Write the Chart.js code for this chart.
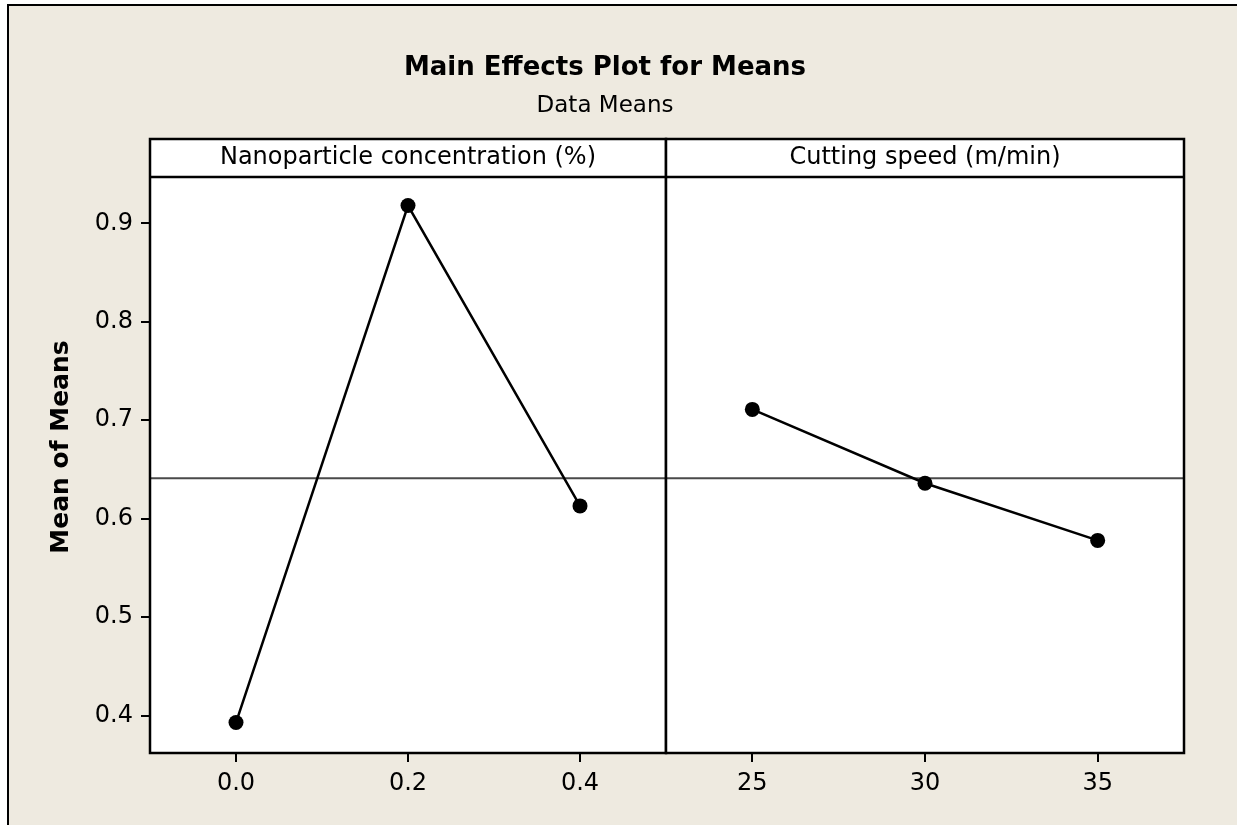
<!DOCTYPE html>
<html>
<head>
<meta charset="utf-8">
<title>Main Effects Plot for Means</title>
<script src="https://cdn.jsdelivr.net/npm/chart.js@4.4.1/dist/chart.umd.min.js"></script>
<style>
  body { margin: 0; background: #fff; }
  #frame {
    position: absolute; left: 7px; top: 4px; width: 1230px; height: 821px;
    background: #eeeae0; border-top: 2px solid #000; border-left: 2px solid #000;
  }
  canvas { position: absolute; left: 0; top: 0; }
</style>
</head>
<body>
<div id="frame"></div>
<canvas id="nano" width="1237" height="825"></canvas>
<canvas id="speed" width="1237" height="825"></canvas>
<script>
// Data

const nanoLevels = [0.0, 0.2, 0.4];
const nanoMeans = [0.393, 0.918, 0.613];

const speedLevels = [25, 30, 35];
const speedMeans = [0.711, 0.636, 0.578];

const grandMean = 0.641;

const yTicks = [0.4, 0.5, 0.6, 0.7, 0.8, 0.9];
const nanoTicks = [0.0, 0.2, 0.4];
const speedTicks = [25, 30, 35];

const panelTitles = ["Nanoparticle concentration (%)", "Cutting speed (m/min)"];

// Styling

const FONT = "'DejaVu Sans', Verdana, sans-serif";
const Y_MIN = 0.3621;
const Y_MAX = 0.947;
const HEADER_H = 38;

Chart.defaults.font.family = FONT;
Chart.defaults.color = "#000";

// white panel, header strip, frame, titles
const panelPlugin = {
  id: "panel",
  beforeDraw(chart) {
    const { ctx, chartArea: a } = chart;
    ctx.save();
    ctx.fillStyle = "#fff";
    ctx.fillRect(a.left, a.top - HEADER_H, a.right - a.left, a.bottom - a.top + HEADER_H);
    ctx.restore();
  },
  beforeDatasetsDraw(chart) {
    const { ctx, chartArea: a } = chart;
    const y = chart.scales.y.getPixelForValue(grandMean);
    ctx.save();
    ctx.strokeStyle = "#4a4a4a";
    ctx.lineWidth = 2;
    ctx.beginPath();
    ctx.moveTo(a.left, y);
    ctx.lineTo(a.right, y);
    ctx.stroke();
    ctx.restore();
  },
  afterDraw(chart, args, opts) {
    const { ctx, chartArea: a } = chart;
    ctx.save();
    ctx.strokeStyle = "#000";
    ctx.lineWidth = 2.5;
    ctx.strokeRect(a.left, a.top - HEADER_H, a.right - a.left, a.bottom - a.top + HEADER_H);
    ctx.beginPath();
    ctx.moveTo(a.left, a.top);
    ctx.lineTo(a.right, a.top);
    ctx.stroke();

    ctx.fillStyle = "#000";
    ctx.textAlign = "center";
    ctx.textBaseline = "middle";
    ctx.font = "24px " + FONT;
    ctx.fillText(opts.title, (a.left + a.right) / 2, a.top - HEADER_H / 2);

    if (opts.main) {
      ctx.font = "bold 26px " + FONT;
      ctx.textBaseline = "alphabetic";
      ctx.fillText("Main Effects Plot for Means", 605, 75);
      ctx.font = "23px " + FONT;
      ctx.fillText("Data Means", 605, 112);

      ctx.translate(61, 447);
      ctx.rotate(-Math.PI / 2);
      ctx.textBaseline = "middle";
      ctx.font = "bold 25px " + FONT;
      ctx.fillText("Mean of Means", 0, 0);
    }
    ctx.restore();
  },
};

function xScale(min, max, ticks, digits) {
  return {
    type: "linear",
    min: min,
    max: max,
    afterBuildTicks: (s) => { s.ticks = ticks.map((v) => ({ value: v })); },
    afterFit: (s) => { s.height = 72; },
    border: { display: false },
    grid: {
      drawOnChartArea: false,
      drawTicks: true,
      tickLength: 9,
      tickColor: "#000",
      lineWidth: 2,
    },
    ticks: {
      font: { size: 24 },
      padding: 7,
      maxRotation: 0,
      callback: (v) => Number(v).toFixed(digits),
    },
  };
}

function yScale(show) {
  return {
    min: Y_MIN,
    max: Y_MAX,
    display: show,
    afterBuildTicks: (s) => { s.ticks = yTicks.map((v) => ({ value: v })); },
    afterFit: (s) => { s.width = show ? 150 : 0; },
    border: { display: false },
    grid: {
      drawOnChartArea: false,
      drawTicks: true,
      tickLength: 9,
      tickColor: "#000",
      lineWidth: 2,
    },
    ticks: {
      font: { size: 24 },
      padding: 8,
      callback: (v) => Number(v).toFixed(1),
    },
  };
}

function series(xs, ys) {
  return {
    data: xs.map((x, i) => ({ x: x, y: ys[i] })),
    borderColor: "#000",
    backgroundColor: "#000",
    borderWidth: 2.5,
    pointRadius: 7.5,
    pointBorderWidth: 0,
    pointBackgroundColor: "#000",
    tension: 0,
    clip: false,
  };
}

const common = {
  responsive: false,
  animation: false,
  events: [],
  plugins: { legend: { display: false }, tooltip: { enabled: false } },
};

new Chart(document.getElementById("nano"), {
  type: "line",
  data: { datasets: [series(nanoLevels, nanoMeans)] },
  options: {
    ...common,
    layout: { padding: { top: 177, left: 0, right: 571, bottom: 0 } },
    scales: { x: xScale(-0.1, 0.5, nanoTicks, 1), y: yScale(true) },
    plugins: { ...common.plugins, panel: { title: panelTitles[0], main: true } },
  },
  plugins: [panelPlugin],
});

new Chart(document.getElementById("speed"), {
  type: "line",
  data: { datasets: [series(speedLevels, speedMeans)] },
  options: {
    ...common,
    layout: { padding: { top: 177, left: 666, right: 53, bottom: 0 } },
    scales: { x: xScale(22.5, 37.5, speedTicks, 0), y: yScale(false) },
    plugins: { ...common.plugins, panel: { title: panelTitles[1], main: false } },
  },
  plugins: [panelPlugin],
});
</script>
</body>
</html>
